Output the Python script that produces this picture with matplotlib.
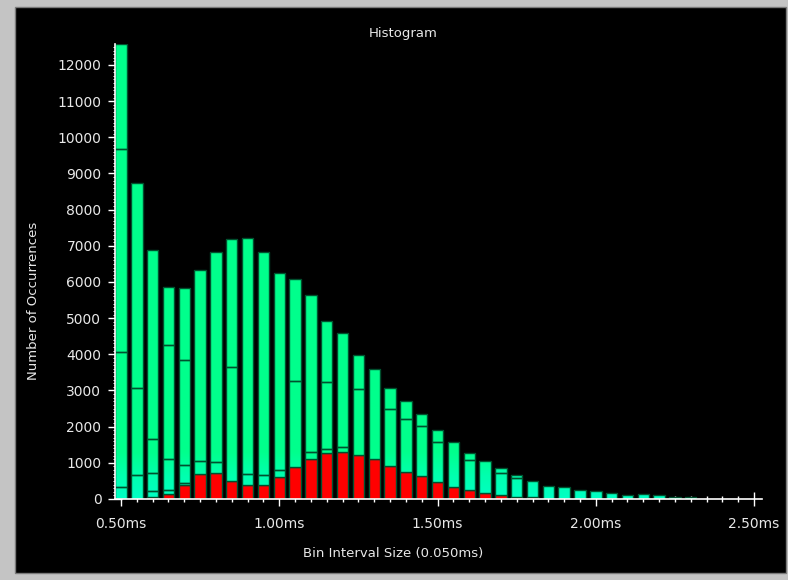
import numpy as np
import matplotlib
matplotlib.use('Agg')
import matplotlib.pyplot as plt
from matplotlib.patches import Rectangle
from matplotlib.colors import LinearSegmentedColormap
from matplotlib.ticker import MultipleLocator, FuncFormatter

# ---- data (bin centres in ms, stacked segment heights) ----
bins_ms = [0.50, 0.55, 0.60, 0.65, 0.70, 0.75, 0.80, 0.85, 0.90, 0.95,
           1.00, 1.05, 1.10, 1.15, 1.20, 1.25, 1.30, 1.35, 1.40, 1.45,
           1.50, 1.55, 1.60, 1.65, 1.70, 1.75, 1.80, 1.85, 1.90, 1.95,
           2.00, 2.05, 2.10, 2.15, 2.20, 2.25, 2.30]
red = [0, 0, 60, 138, 390, 700, 710, 507, 400, 400,
       600, 876, 1110, 1265, 1300, 1225, 1105, 912, 740, 630,
       460, 332, 250, 175, 110, 65, 45, 0, 0, 0,
       0, 0, 0, 0, 0, 0, 0]
seg1 = [323, 672, 170, 111, 55, 364, 318, 3151, 290, 250,
        197, 2400, 180, 115, 135, 1807, 2498, 1585, 1480, 1380,
        1125, 1235, 819, 875, 600, 524, 453, 351, 323, 249,
        212, 175, 102, 138, 102, 65, 55]
seg2 = [3750, 2397, 498, 848, 490, 5267, 5792, 3522, 6517, 6170,
        5465, 2802, 4341, 1855, 3146, 958, 0, 581, 498, 331,
        332, 0, 194, 0, 138, 83, 0, 0, 0, 0,
        0, 0, 0, 0, 0, 0, 0]
seg3 = [5603, 5676, 940, 3161, 2899, 0, 0, 0, 0, 0,
        0, 0, 0, 1695, 0, 0, 0, 0, 0, 0,
        0, 0, 0, 0, 0, 0, 0, 0, 0, 0,
        0, 0, 0, 0, 0, 0, 0]
seg4 = [2904, 0, 5225, 1612, 2009, 0, 0, 0, 0, 0,
        0, 0, 0, 0, 0, 0, 0, 0, 0, 0,
        0, 0, 0, 0, 0, 0, 0, 0, 0, 0,
        0, 0, 0, 0, 0, 0, 0]

title = "Histogram"
xlabel = "Bin Interval Size (0.050ms)"
ylabel = "Number of Occurrences"

# ---- style ----
W, H = 788, 580
GREEN = '#00FF8C'
EDGE = '#00502E'
RED = '#FF0000'
TXT = '#E8E8E8'
plt.rcParams['font.family'] = ['DejaVu Sans']

fig = plt.figure(figsize=(W / 100, H / 100), dpi=100, facecolor='#C4C4C4')
bg = Rectangle((15 / W, 7 / H), 771 / W, 566 / H, transform=fig.transFigure,
               facecolor='black', edgecolor='#7A7A7A', linewidth=1.0, zorder=-10)
fig.patches.append(bg)

ax = fig.add_axes([115 / W, 81 / H, 647 / W, 455 / H])
ax.set_zorder(1)
ax.set_facecolor('black')
ax.set_xlim(0.481, 2.525)
ax.set_ylim(0, 12580)
ax.set_axisbelow(True)

x = np.array(bins_ms)
width = 0.036
cmap = LinearSegmentedColormap.from_list('g', ['#00FFC4', '#00FFAE', GREEN])
grad = np.linspace(0, 12580, 800)
grad_vals = np.clip(grad / 1300.0, 0, 1)[:, None]

bottom = np.zeros(len(x))
ax.bar(x, red, width, bottom=bottom, color=RED, edgecolor=EDGE, linewidth=1.0, zorder=2)
bottom += np.array(red)
green_patches = []
for seg in (seg1, seg2, seg3, seg4):
    s = np.array(seg, dtype=float)
    mask = s > 0
    bc = ax.bar(x[mask], s[mask], width, bottom=bottom[mask], color=GREEN,
                edgecolor='none', linewidth=0, zorder=2)
    green_patches.extend(bc.patches)
    bottom += s

for p in green_patches:
    im = ax.imshow(grad_vals, cmap=cmap, vmin=0, vmax=1, origin='lower', aspect='auto',
                   extent=[0.481, 2.525, 0, 12580], zorder=2.5, interpolation='bilinear')
    im.set_clip_path(p)
for p in green_patches:
    ax.add_patch(Rectangle((p.get_x(), p.get_y()), p.get_width(), p.get_height(),
                           facecolor='none', edgecolor=EDGE, linewidth=1.0, zorder=3))
ax.set_xlim(0.481, 2.525)
ax.set_ylim(0, 12580)

for side in ('top', 'right'):
    ax.spines[side].set_visible(False)
for side in ('left', 'bottom'):
    ax.spines[side].set_color('white')
    ax.spines[side].set_linewidth(1.2)
    ax.spines[side].set_zorder(4)

ax.xaxis.set_major_locator(MultipleLocator(0.5))
ax.xaxis.set_minor_locator(MultipleLocator(0.05))
ax.yaxis.set_major_locator(MultipleLocator(1000))
ax.yaxis.set_minor_locator(MultipleLocator(100))
ax.xaxis.set_major_formatter(FuncFormatter(lambda v, p: f"{v:.2f}ms"))
ax.yaxis.set_major_formatter(FuncFormatter(lambda v, p: f"{int(round(v))}"))

ax.tick_params(axis='x', which='major', direction='inout', length=9.6, width=1.0,
               color='white', labelcolor=TXT, labelsize=10, pad=8)
ax.tick_params(axis='x', which='minor', direction='inout', length=4.8, width=1.0, color='white')
ax.tick_params(axis='y', which='major', direction='inout', length=9.6, width=1.0,
               color='white', labelcolor=TXT, labelsize=10, pad=5)
ax.tick_params(axis='y', which='minor', direction='inout', length=3.0, width=0.7, color='white')

fig.text(403 / W, 1 - 33 / H, title, color=TXT, fontsize=9.5, ha='center', va='center')
fig.text(393 / W, 1 - 553 / H, xlabel, color=TXT, fontsize=9.5, ha='center', va='center')
fig.text(34 / W, 1 - 301 / H, ylabel, color=TXT, fontsize=9.5, ha='center', va='center',
         rotation=90)

fig.savefig('out.png', dpi=100, facecolor=fig.get_facecolor())
